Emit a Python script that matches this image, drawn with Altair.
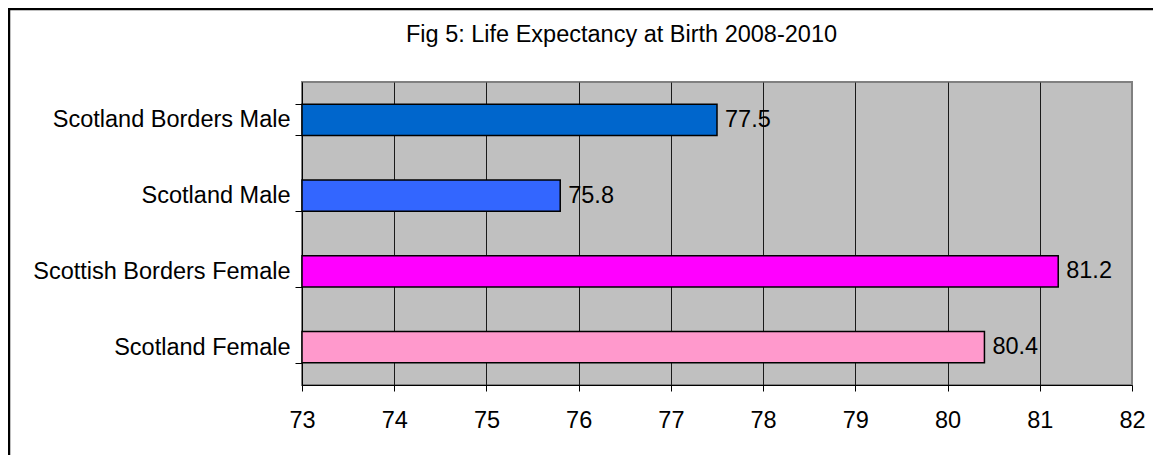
import altair as alt
import pandas as pd

categories = ["Scotland Borders Male", "Scotland Male", "Scottish Borders Female", "Scotland Female"]
values = [77.5, 75.8, 81.2, 80.4]
colors = ["#0066CC", "#3366FF", "#FF00FF", "#FF99CC"]
x_ticks = [73, 74, 75, 76, 77, 78, 79, 80, 81, 82]
title_text = "Fig 5: Life Expectancy at Birth 2008-2010"

FONT = "Liberation Sans"
FS = 23.5

df = pd.DataFrame({"cat": categories, "val": values})

W, H = 830, 303

y_enc = alt.Y(
    "cat:N",
    sort=categories,
    title=None,
    scale=alt.Scale(paddingInner=0.59, paddingOuter=0.295),
    axis=alt.Axis(
        tickBand="extent",
        tickSize=7,
        tickColor="#000",
        domainColor="#000",
        labelFont=FONT,
        labelFontSize=FS,
        labelColor="#000",
        labelPadding=5,
        labelLimit=600,
        grid=False,
    ),
)

x_enc = alt.X(
    "val:Q",
    title=None,
    scale=alt.Scale(domain=[73, 82], zero=False, nice=False),
    axis=alt.Axis(
        values=x_ticks,
        format="d",
        tickSize=6,
        tickColor="#000",
        domainColor="#000",
        labelFont=FONT,
        labelFontSize=FS,
        labelColor="#000",
        labelPadding=17,
        labelFlush=False,
        grid=True,
        gridColor={"condition": {"test": "datum.value === 82", "value": "#808080"}, "value": "#1a1a1a"},
        gridWidth=1,
        gridOpacity=1,
    ),
)

bars = alt.Chart(df).mark_bar(stroke="#000", strokeWidth=1.5).encode(
    y=y_enc,
    x=x_enc,
    x2=alt.datum(73),
    color=alt.Color("cat:N", scale=alt.Scale(domain=categories, range=colors), legend=None),
)

labels = alt.Chart(df).mark_text(
    align="left", baseline="middle", dx=8, font=FONT, fontSize=FS, color="#000"
).encode(
    y=alt.Y("cat:N", sort=categories),
    x=alt.X("val:Q"),
    text=alt.Text("val:Q", format=".1f"),
)

one = alt.Data(values=[{"k": 1}])

title = alt.Chart(one).mark_text(
    font=FONT, fontSize=FS, color="#000", align="center", baseline="alphabetic"
).encode(x=alt.value(319.5), y=alt.value(-40.5), text=alt.value(title_text))

border_left = alt.Chart(one).mark_rule(color="#000", strokeWidth=2.5).encode(
    x=alt.value(-293), y=alt.value(-74), y2=alt.value(H + 80)
)
border_top = alt.Chart(one).mark_rule(color="#000", strokeWidth=2.5).encode(
    x=alt.value(-294), x2=alt.value(W + 40), y=alt.value(-73)
)

chart = alt.layer(bars, labels, title, border_left, border_top).properties(
    width=W,
    height=H,
    autosize=alt.AutoSizeParams(type="none"),
    padding={"left": 294, "top": 74, "right": 21, "bottom": 70},
    background="#FFFFFF",
).configure_view(
    fill="#C0C0C0", stroke="#808080", strokeWidth=2
)

chart.save("out.html", embed_options={"renderer": "svg", "actions": False})
